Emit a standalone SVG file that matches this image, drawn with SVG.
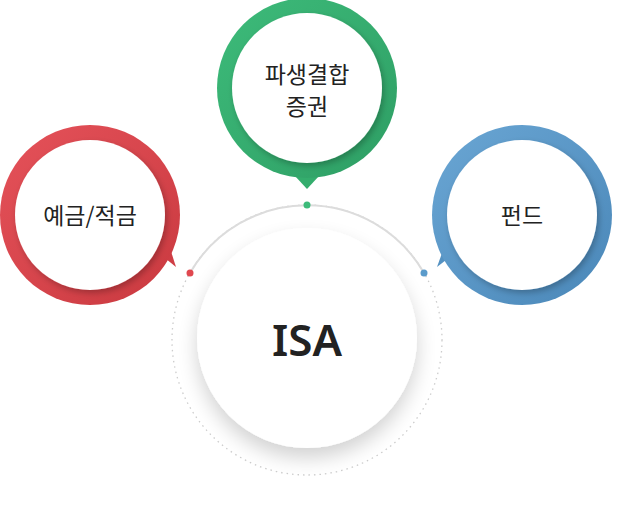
<svg xmlns="http://www.w3.org/2000/svg" width="617" height="505" viewBox="0 0 617 505">
<defs>
<linearGradient id="gG" x1="0" y1="0" x2="1" y2="1"><stop offset="0" stop-color="#3dbb7a"/><stop offset="1" stop-color="#2e9e64"/></linearGradient>
<linearGradient id="gR" x1="0" y1="0" x2="1" y2="1"><stop offset="0" stop-color="#e5525a"/><stop offset="1" stop-color="#c9393f"/></linearGradient>
<linearGradient id="gB" x1="0" y1="0" x2="1" y2="1"><stop offset="0" stop-color="#6aa6d4"/><stop offset="1" stop-color="#4a87b8"/></linearGradient>
<filter id="sh" x="-30%" y="-30%" width="160%" height="170%"><feGaussianBlur in="SourceAlpha" stdDeviation="10"/><feOffset dy="10"/><feComponentTransfer><feFuncA type="linear" slope="0.18"/></feComponentTransfer><feMerge><feMergeNode/><feMergeNode in="SourceGraphic"/></feMerge></filter>
<filter id="is" x="-20%" y="-20%" width="140%" height="140%"><feGaussianBlur in="SourceAlpha" stdDeviation="3"/><feOffset dx="2" dy="3"/><feComponentTransfer><feFuncA type="linear" slope="0.25"/></feComponentTransfer><feMerge><feMergeNode/><feMergeNode in="SourceGraphic"/></feMerge></filter>
</defs>
<style>
text{font-family:"Noto Sans CJK KR","Noto Sans",sans-serif;fill:#222;text-anchor:middle}
.l{font-size:23px}
.w{fill:#fff}
</style>
<g id="connectors">
<circle cx="307" cy="340" r="135" fill="none" stroke="#ccc" stroke-width="1.3" stroke-dasharray="1.5 4"/>
<path d="M190 273 A135 135 0 0 1 424 273" fill="none" stroke="#dcdcdc" stroke-width="2"/>
<circle cx="307" cy="205" r="3.5" fill="#3dbb7a"/>
<circle cx="190" cy="273" r="3.5" fill="#e0484f"/>
<circle cx="424" cy="273" r="3.5" fill="#5b9bcb"/>
</g>
<g id="isa">
<circle cx="307" cy="338" r="110" fill="#fff" filter="url(#sh)"/>
<text x="307" y="356" style="font-size:44px;font-weight:600;font-family:'Noto Sans','Liberation Sans',sans-serif" fill="#111">ISA</text>
</g>
<g id="green">
<path d="M295 176 L307 189 L319 176 Z" fill="#34ad6d"/>
<circle cx="307" cy="88" r="90" fill="url(#gG)"/>
<circle class="w" cx="307" cy="88" r="75" filter="url(#is)"/>
<text class="l" x="307" y="83">파생결합</text>
<text class="l" x="307" y="115">증권</text>
</g>
<g id="red">
<path d="M155 250 L176 267 L168 242 Z" fill="#cf3e45"/>
<circle cx="90" cy="215" r="90" fill="url(#gR)"/>
<circle class="w" cx="90" cy="215" r="75" filter="url(#is)"/>
<text class="l" x="90" y="224">예금/적금</text>
</g>
<g id="blue">
<path d="M459 250 L437 267 L446 242 Z" fill="#5592c2"/>
<circle cx="522" cy="215" r="90" fill="url(#gB)"/>
<circle class="w" cx="522" cy="215" r="75" filter="url(#is)"/>
<text class="l" x="522" y="224">펀드</text>
</g>
</svg>
